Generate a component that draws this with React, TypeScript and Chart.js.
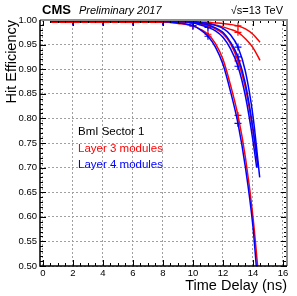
import React, { useEffect, useRef } from "react";
import { Chart, registerables } from "chart.js";
Chart.register(...registerables);

// Time-delay grid (ns) on which curve values were read
const T_GRID = [0.5, 2, 4, 6, 8, 9, 10, 10.5, 11, 11.5, 12, 12.5, 13, 13.5, 14];

// Layer 3 modules (red)
const L3_A = [0.996, 0.996, 0.996, 0.996, 0.996, 0.996, 0.996, 0.996, 0.995, 0.994, 0.993, 0.991, 0.988, 0.982, 0.971];
const L3_A_END = [14.47, 0.955];
const L3_B = [0.996, 0.996, 0.996, 0.996, 0.996, 0.996, 0.995, 0.994, 0.992, 0.99, 0.986, 0.981, 0.975, 0.962, 0.944];
const L3_B_END = [14.47, 0.918];
const L3_C = [0.996, 0.996, 0.996, 0.996, 0.996, 0.996, 0.994, 0.992, 0.988, 0.982, 0.972, 0.952, 0.917, 0.862, 0.775];
const L3_C_END = [14.3, 0.71];
const L3_D = [0.996, 0.996, 0.996, 0.996, 0.996, 0.993, 0.988, 0.981, 0.971, 0.952, 0.92, 0.868, 0.806, 0.72, 0.6];
const L3_D_END = [14.4, 0.47];

// Layer 4 modules (blue)
const L4_A = [0.998, 0.998, 0.998, 0.998, 0.998, 0.998, 0.997, 0.995, 0.993, 0.989, 0.983, 0.97, 0.945, 0.895, 0.805];
const L4_A_END = [14.45, 0.68];
const L4_B = [0.998, 0.998, 0.998, 0.998, 0.998, 0.997, 0.994, 0.99, 0.985, 0.978, 0.965, 0.942, 0.906, 0.845, 0.755];
const L4_B_END = [14.25, 0.7];
const L4_C = [0.998, 0.998, 0.998, 0.998, 0.998, 0.998, 0.996, 0.993, 0.99, 0.984, 0.975, 0.955, 0.925, 0.87, 0.78];
const L4_C_END = [14.35, 0.7];
const L4_D = [0.998, 0.998, 0.998, 0.998, 0.997, 0.994, 0.988, 0.98, 0.967, 0.945, 0.91, 0.855, 0.79, 0.7, 0.58];
const L4_D_END = [14.3, 0.47];

// Measured points (with error bars) at these delays
const MARK_T = [2, 4, 6, 8, 10, 11, 13];

const X_TICKS = [0, 2, 4, 6, 8, 10, 12, 14, 16];
const Y_TICKS = [0.5, 0.55, 0.6, 0.65, 0.7, 0.75, 0.8, 0.85, 0.9, 0.95, 1.0];
const Y_TICK_LABELS = ["0.50", "0.55", "0.60", "0.65", "0.70", "0.75", "0.80", "0.85", "0.90", "0.95", "1.00"];

const RED = "#ff0000";
const BLUE = "#0000ff";
const FONT = "'Liberation Sans', Arial, Helvetica, sans-serif";

const CURVES = [
  { v: L4_A, end: L4_A_END, c: BLUE },
  { v: L4_B, end: L4_B_END, c: BLUE },
  { v: L4_C, end: L4_C_END, c: BLUE },
  { v: L4_D, end: L4_D_END, c: BLUE },
  { v: L3_A, end: L3_A_END, c: RED },
  { v: L3_B, end: L3_B_END, c: RED },
  { v: L3_C, end: L3_C_END, c: RED },
  { v: L3_D, end: L3_D_END, c: RED },
];

const framePlugin = {
  id: "rootFrame",
  afterDraw(chart: any) {
    const ctx = chart.ctx;
    const { left, right, top, bottom } = chart.chartArea;
    const xs = chart.scales.x;
    const ys = chart.scales.y;
    ctx.save();
    // ticks
    ctx.strokeStyle = "#000";
    ctx.lineWidth = 1;
    ctx.beginPath();
    for (let v = 0; v <= 16.01; v += 0.5) {
      const px = Math.round(xs.getPixelForValue(v)) + 0.5;
      const len = Math.abs(v % 2) < 1e-6 ? 6 : 3;
      ctx.moveTo(px, bottom);
      ctx.lineTo(px, bottom - len);
      ctx.moveTo(px, top);
      ctx.lineTo(px, top + len);
    }
    for (let i = 0; i <= 50; i++) {
      const v = 0.5 + i * 0.01;
      const py = Math.round(ys.getPixelForValue(v)) + 0.5;
      const len = i % 5 === 0 ? 6 : 3;
      ctx.moveTo(left, py);
      ctx.lineTo(left + len, py);
      ctx.moveTo(right, py);
      ctx.lineTo(right - len, py);
    }
    ctx.stroke();
    // frame
    ctx.strokeStyle = "#909090";
    ctx.lineWidth = 2;
    ctx.beginPath();
    ctx.moveTo(left, top);
    ctx.lineTo(right, top);
    ctx.lineTo(right, bottom);
    ctx.stroke();
    ctx.strokeStyle = "#000";
    ctx.lineWidth = 1.5;
    ctx.beginPath();
    ctx.moveTo(left, top);
    ctx.lineTo(left, bottom);
    ctx.lineTo(right, bottom);
    ctx.stroke();

    // axis titles
    ctx.fillStyle = "#000";
    ctx.font = `14.5px ${FONT}`;
    ctx.textAlign = "right";
    ctx.textBaseline = "alphabetic";
    ctx.fillText("Time Delay (ns)", right, 290);
    ctx.save();
    ctx.translate(16, top);
    ctx.rotate(-Math.PI / 2);
    ctx.textAlign = "right";
    ctx.fillText("Hit Efficiency", 0, 0);
    ctx.restore();

    // header
    ctx.textAlign = "left";
    ctx.font = `bold 13px ${FONT}`;
    ctx.fillText("CMS", 42, 14);
    ctx.font = `italic 11px ${FONT}`;
    ctx.fillText("Preliminary 2017", 79, 14);
    ctx.font = `11px ${FONT}`;
    ctx.textAlign = "right";
    ctx.fillText("\u221As=13 TeV", 283, 14);

    // legend texts
    ctx.textAlign = "left";
    ctx.font = `11.5px ${FONT}`;
    ctx.fillStyle = "#000";
    ctx.fillText("BmI Sector 1", 78, 135);
    ctx.fillStyle = RED;
    ctx.fillText("Layer 3 modules", 78, 151.5);
    ctx.fillStyle = BLUE;
    ctx.fillText("Layer 4 modules", 78, 168);
    ctx.restore();
  },
};

export default function App() {
  const ref = useRef<HTMLCanvasElement | null>(null);
  useEffect(() => {
    if (!ref.current) return;
    const datasets: any[] = [];
    CURVES.forEach((cv) => {
      const pts = T_GRID.map((t, i) => ({ x: t, y: cv.v[i] }));
      pts.push({ x: cv.end[0], y: cv.end[1] });
      datasets.push({
        data: pts,
        borderColor: cv.c,
        borderWidth: 1.5,
        pointRadius: 0,
        fill: false,
        cubicInterpolationMode: "monotone",
      });
    });
    CURVES.forEach((cv) => {
      const pts = MARK_T.map((t) => ({ x: t, y: cv.v[T_GRID.indexOf(t)] }));
      datasets.push({
        data: pts,
        showLine: false,
        borderColor: cv.c,
        backgroundColor: cv.c,
        borderWidth: 1.2,
        pointStyle: "cross",
        pointRadius: 3.5,
      });
    });
    const tickFont = { family: FONT, size: 9.5 };
    const chart = new Chart(ref.current, {
      type: "line",
      data: { datasets },
      options: {
        animation: false,
        responsive: false,
        maintainAspectRatio: false,
        events: [],
        layout: { padding: { left: 8, top: 20, right: 10, bottom: 0 } },
        plugins: { legend: { display: false }, tooltip: { enabled: false } },
        scales: {
          x: {
            type: "linear",
            min: -0.2,
            max: 16.27,
            afterBuildTicks: (s: any) => {
              s.ticks = X_TICKS.map((v) => ({ value: v }));
            },
            afterFit: (s: any) => {
              s.height = 30;
            },
            ticks: {
              padding: 2,
              color: "#000",
              font: tickFont,
              maxRotation: 0,
              autoSkip: false,
              callback: (v: any) => String(v),
            },
            grid: { color: "#a0a0a0", lineWidth: 1, drawTicks: false },
            border: { display: false, dash: [2, 2] },
          },
          y: {
            type: "linear",
            min: 0.5,
            max: 1.0,
            afterBuildTicks: (s: any) => {
              s.ticks = Y_TICKS.map((v) => ({ value: v }));
            },
            afterFit: (s: any) => {
              s.width = 32;
            },
            ticks: {
              padding: 3,
              color: "#000",
              font: tickFont,
              autoSkip: false,
              callback: (_v: any, i: number) => Y_TICK_LABELS[i],
            },
            grid: { color: "#a0a0a0", lineWidth: 1, drawTicks: false },
            border: { display: false, dash: [2, 2] },
          },
        },
      } as any,
      plugins: [framePlugin],
    });
    return () => chart.destroy();
  }, []);
  return (
    <div style={{ position: "absolute", left: 0, top: 0, width: 297, height: 296, background: "#fff" }}>
      <canvas ref={ref} width={297} height={296} style={{ display: "block" }} />
    </div>
  );
}
